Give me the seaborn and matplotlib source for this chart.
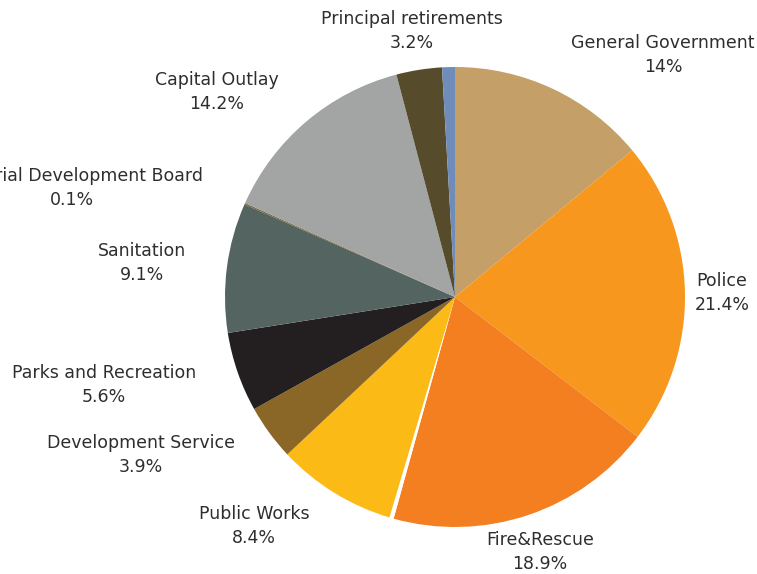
import matplotlib
matplotlib.use("Agg")
import matplotlib.pyplot as plt
import seaborn as sns

# ---- data ----
categories = ["General Government", "Police", "Fire&Rescue", "", "Public Works",
              "Development Service", "Parks and Recreation", "Sanitation",
              "Industrial Development Board", "Capital Outlay",
              "Principal retirements", ""]
values = [14.0, 21.4, 18.9, 0.3, 8.4, 3.9, 5.6, 9.1, 0.1, 14.2, 3.2, 0.9]
pct_labels = ["14%", "21.4%", "18.9%", "", "8.4%", "3.9%", "5.6%", "9.1%",
              "0.1%", "14.2%", "3.2%", ""]

colors = ["#C49F67", "#F7971E", "#F47F20", "#FFFFFF", "#FBBA16", "#8B6727",
          "#231F20", "#546461", "#7A6A3A", "#A2A5A4", "#564B2A", "#6F8DB8"]

# label centre positions in pixel coordinates (x, y from top)
label_pos = [(663, 55), (722, 293), (540, 552), None, (254, 526), (141, 455),
             (104, 385), (142, 263), (72, 188), (217, 92), (412, 31), None]

sns.set_theme(style="white")
plt.rcParams['font.family'] = ['DejaVu Sans']

W, H = 757, 574
fig = plt.figure(figsize=(W / 100, H / 100), dpi=100)
ax = fig.add_axes([0, 0, 1, 1])

ax.pie(values, colors=colors, startangle=90, counterclock=False,
       center=(455, H - 297), radius=230, frame=True,
       wedgeprops=dict(linewidth=0))
ax.set_xlim(0, W)
ax.set_ylim(0, H)
ax.set_aspect('equal')
ax.axis('off')

for name, pct, pos in zip(categories, pct_labels, label_pos):
    if pos is None:
        continue
    ax.text(pos[0], H - pos[1], f"{name}\n{pct}", ha='center', va='center',
            fontsize=12.5, color='#2e2e2e', linespacing=1.45)

fig.savefig("out.png", dpi=100, facecolor='white')
